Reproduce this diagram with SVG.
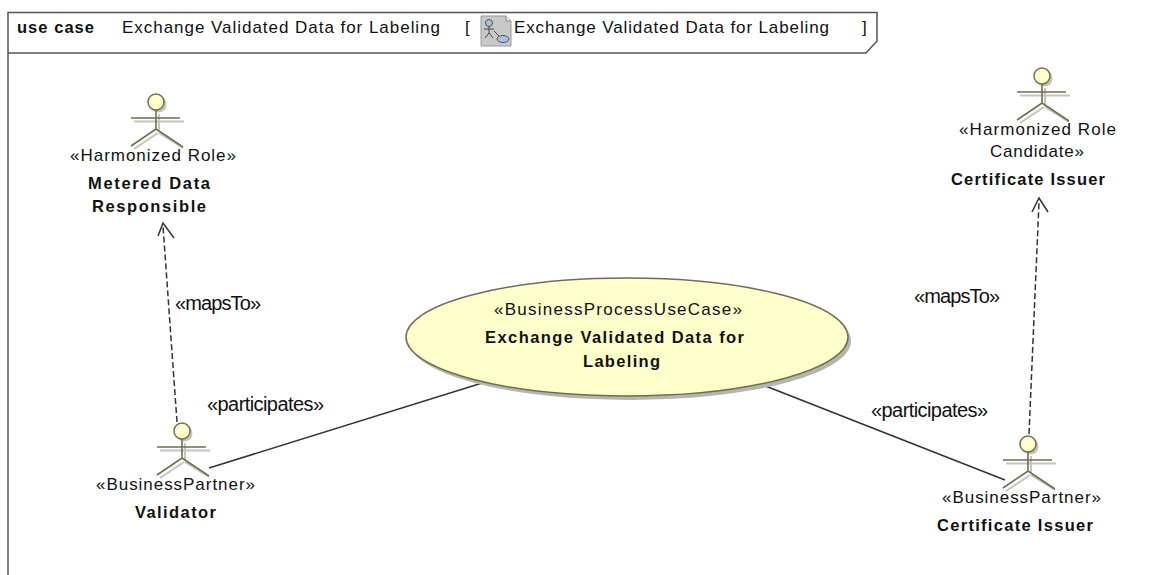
<svg xmlns="http://www.w3.org/2000/svg" width="1169" height="575" viewBox="0 0 1169 575">
<style>
text{font-family:"Liberation Sans",Arial,sans-serif;font-size:17px;fill:#111;text-anchor:start}
.b{font-weight:bold;font-size:16.500px}
.p{font-size:20px}
.frame{fill:none;stroke:#555;stroke-width:1.5}
.conn{fill:none;stroke:#333;stroke-width:1.5}
.dash{stroke-dasharray:6 3}
.ash{fill:none;stroke:#c4c4c4;stroke-width:2}
.al{fill:none;stroke:#6f6f4f;stroke-width:1.6}
.hs{fill:#c4c4c4}
.h{fill:#ffffcc;stroke:#6f6f4f;stroke-width:1.5}
</style>
<defs>
<g id="actor">
<circle class="hs" cx="2.500" cy="2.500" r="8"/>
<path class="ash" d="M-22 19.500H28M3 12V29M-22 47L2 31M27 46L3 31"/>
<circle class="h" cx="0" cy="0" r="8"/>
<path class="al" d="M-25 16H24M0 8V27M-25 44L0 27L27 45"/>
</g>
</defs>
<rect width="1169" height="575" fill="#fff"/>
<g id="frame">
<path class="frame" d="M8 575V12.500H877V41L866 53H8"/>
<text class="b" x="17" y="33" textLength="77" lengthAdjust="spacing">use case</text>
<text x="122" y="33" textLength="318" lengthAdjust="spacing">Exchange Validated Data for Labeling</text>
<text x="465" y="33">[</text>
<g id="diagram-icon">
<path d="M481 16H506L511 21V46H481Z" fill="#c8c8c8" stroke="#999"/>
<path d="M506 16V21H511" fill="#eee" stroke="#888"/>
<circle cx="489" cy="23" r="3.500" fill="#aac0dd" stroke="#555"/>
<path d="M489 26V33M484 29H494M489 33L485 38M489 33L493 38M494 31L499 36" fill="none" stroke="#444"/>
<ellipse cx="503" cy="39" rx="6" ry="3.500" fill="#aac0dd" stroke="#555"/>
</g>
<text x="514" y="33" textLength="315" lengthAdjust="spacing">Exchange Validated Data for Labeling</text>
<text x="862" y="33">]</text>
</g>
<g id="connectors">
<path class="conn dash" d="M177 422L163 226"/>
<path class="conn" d="M158 236L163 223L174 238"/>
<path class="conn dash" d="M1029 434L1039 202"/>
<path class="conn" d="M1032 212L1039 198L1048 212"/>
<path class="conn" d="M209 468L495 379"/>
<path class="conn" d="M745 378L1005 480"/>
</g>
<g id="conn-labels">
<text class="p" x="175" y="310" textLength="86" lengthAdjust="spacing">«mapsTo»</text>
<text class="p" x="207" y="411" textLength="117" lengthAdjust="spacing">«participates»</text>
<text class="p" x="914" y="303" textLength="86" lengthAdjust="spacing">«mapsTo»</text>
<text class="p" x="871" y="417" textLength="117" lengthAdjust="spacing">«participates»</text>
</g>
<g id="usecase">
<ellipse cx="630" cy="341" rx="221" ry="59" fill="#b5b5b5"/>
<ellipse cx="627" cy="337" rx="221" ry="59" fill="#ffffcc" stroke="#6f6f4f" stroke-width="1.5"/>
<text x="494" y="315" textLength="248" lengthAdjust="spacing">«BusinessProcessUseCase»</text>
<text class="b" x="485" y="343" textLength="259" lengthAdjust="spacing">Exchange Validated Data for</text>
<text class="b" x="583" y="367" textLength="77" lengthAdjust="spacing">Labeling</text>
</g>
<g id="actor-metered">
<use href="#actor" x="156" y="102"/>
<text x="70" y="161" textLength="166" lengthAdjust="spacing">«Harmonized Role»</text>
<text class="b" x="88" y="189" textLength="122" lengthAdjust="spacing">Metered Data</text>
<text class="b" x="92" y="212" textLength="114" lengthAdjust="spacing">Responsible</text>
</g>
<g id="actor-candidate">
<use href="#actor" x="1042" y="76"/>
<text x="959" y="135" textLength="157" lengthAdjust="spacing">«Harmonized Role</text>
<text x="990" y="157" textLength="94" lengthAdjust="spacing">Candidate»</text>
<text class="b" x="951" y="185" textLength="154" lengthAdjust="spacing">Certificate Issuer</text>
</g>
<g id="actor-validator">
<use href="#actor" x="182" y="431"/>
<text x="96" y="490" textLength="159" lengthAdjust="spacing">«BusinessPartner»</text>
<text class="b" x="135" y="518" textLength="81" lengthAdjust="spacing">Validator</text>
</g>
<g id="actor-issuer">
<use href="#actor" x="1028" y="444"/>
<text x="942" y="503" textLength="159" lengthAdjust="spacing">«BusinessPartner»</text>
<text class="b" x="937" y="531" textLength="156" lengthAdjust="spacing">Certificate Issuer</text>
</g>
</svg>
